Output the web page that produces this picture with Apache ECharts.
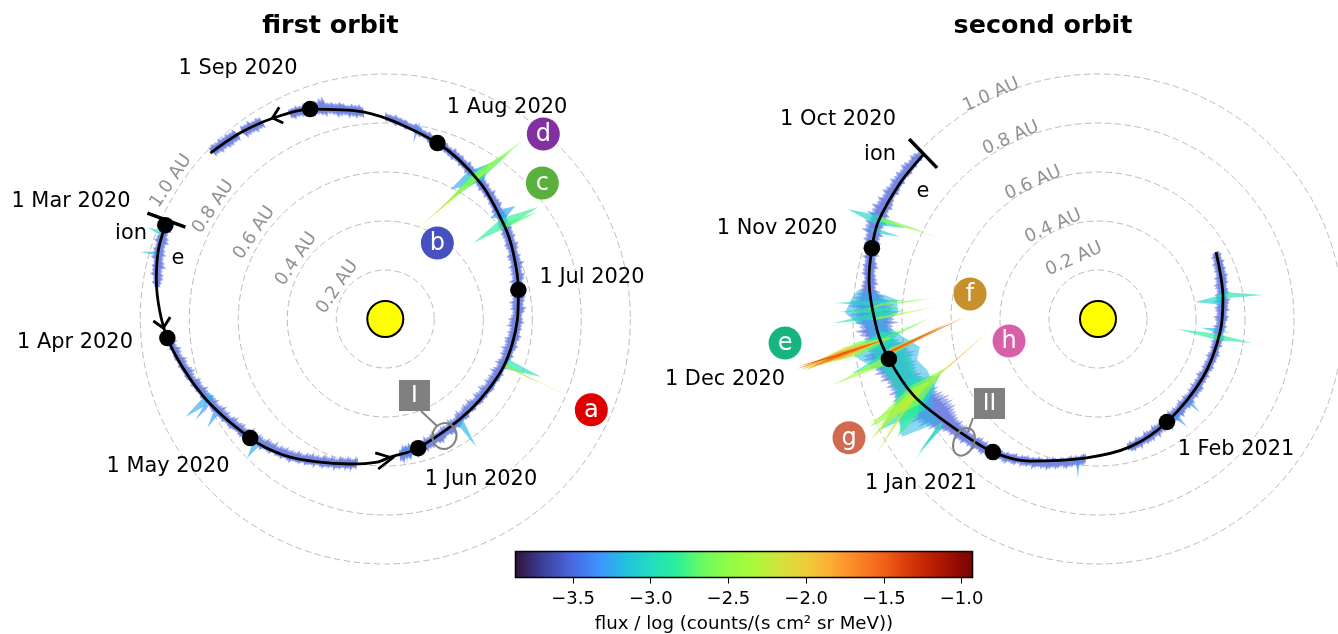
<!DOCTYPE html>
<html><head><meta charset="utf-8">
<script src="https://cdn.jsdelivr.net/npm/echarts@6/dist/echarts.min.js"></script>
<style>html,body{margin:0;padding:0;background:#fff}#c{width:1338px;height:634px}</style>
</head><body><div id="c"></div>
<script>
// ---- orbit tracks: [distance AU, heliocentric angle deg]
const orbit1 = [[.976,156.9],[.968,163.1],[.948,170.3],[.893,185],[.809,202.6],[.735,221.4],[.694,233.1],[.646,244.6],[.609,256.4],[.585,266.8],[.564,272.1],[.544,284.3],[.508,313],[.520,337.9],[.539,359.6],[.556,372.3],[.588,387.3],[.617,398],[.677,415],[.749,433.5],[.850,456.1],[.910,469.7],[.939,479.1],[.963,487.9],[.984,496.5]];
const orbit2 = [[.979,136.9],[.980,145.5],[.981,156.2],[.967,162.6],[.948,170.3],[.903,182.8],[.869,190.8],[.816,202.3],[.748,214.6],[.692,231.7],[.643,244.4],[.570,264.7],[.538,284],[.506,303.8],[.490,331],[.501,353.5],[.518,370],[.554,389.6]];
// ---- monthly markers
const dates1 = [[.976,156.9],[.893,185],[.735,221.4],[.544,284.3],[.556,12.3],[.749,73.5],[.910,109.7]];
const dates2 = [[.967,162.6],[.869,190.8],[.692,231.7],[.506,303.8]];
// ---- ion/e boundary bars and direction chevrons
const bar1 = [[1.063,156],[.898,155.3]];
const bar2 = [[1.065,136.4],[.901,136.8]];
const arrows1 = [
  [[.947,180.5],[.907,182.3],[.878,179.5]],
  [[.548,265.7],[.568,272.9],[.613,267.3]],
  [[.967,116.6],[.941,119.3],[.902,117.5]]
];
// ---- background flux fringe around the track: thickness in milli-AU, outward / inward per time bin
const band1aOut=[18,26,15,22,28,17,24,20,30,16,23,19,27,14,21,12];
const band1aIn=[28,35,24,32,38,26,30,36,27,33,40,25,31,29,22,16];
const band1bOut=[8,12,9,14,7,11,13,8,15,10,9,14,12,7,16,10,13,9,17,11,14,8,12,18,10,15,13,20,11,16,22,14,12,19,24,13,17,15,21,12,18,26,14,16,22,11,19,15,24,13,20,28,16,18,23,14,26,19,17,30,15,22,27,18,24,16,32,20,25,17,29,21,34,19,28];
const band1bIn=[30,36,26,40,33,28,42,35,30,38,44,32,27,41,36,31,46,34,29,39,37,43,30,35,48,33,40,28,37,45,31,36,42,29,34,50,38,32,41,35,30,44,37,33,47,28,39,34,42,31,36,29,40,33,27,38,32,43,30,35,26,41,34,28,37,31,24,39,33,27,36,30,22,34,28];
const band1cOut=[30,42,26,36,22,40,28,18,34,24,30,16,26,32,20,14,24,28,12,22,18,10,16,20,9,14,18,8,12,16,10,14,9,13,17,11,8,15,12,18,10,14,20,13,17,24,15,21,27,18,25,30,20,26,22,32,24,19,28,34,21,26,30,23,36,25,20,29,33,22,27,38,24,30,21,28,35,23,32,26,29,37,24,31,27,22,33,28,25,36,23,30,26,34,21,28,24,32,20,27,23,30,19,26,22,34,20,25,18,24,28,17,23,21,26,19,24];
const band1cIn=[22,34,28,40,25,36,30,24,38,28,33,42,26,30,38,34,28,44,36,30,40,46,32,38,42,34,48,36,30,44,38,34,50,40,32,46,36,42,34,48,38,30,44,36,28,40,34,46,32,38,42,30,36,28,44,34,40,30,26,38,32,42,28,36,24,34,30,40,26,32,28,36,24,30,34,22,28,32,24,26,30,22,28,24,20,26,30,22,24,18,26,20,28,22,18,24,20,26,18,22,16,24,20,18,22,15,20,24,16,21,18,14,20,16,22,15,18];
const band1dOut=[22,30,24,28,20,26,32,24,30,26,52,44,34,28,24,30,22,26,20,18];
const band1dIn=[30,24,34,28,38,26,32,40,28,24,36,30,26,34,22,30,28,24,32,26];
const band1eOut=[26,30,22,34,24,28,6,32,25,30,24,30,22,28,24];
const band1eIn=[30,24,34,26,28,36,6,30,26,32,32,26,34,24,30];
const band2aOut=[24,34,40,30,38,44,32,42,36,46,34,40,48,36,50,42,58,46,62,40,54,48,60,38,44,36,30,26,36,24,32,28,34,22,30,36,44,56,70,88,96,80,102,90,84,70,92,78,66,74,86,70,96,100,84,92,76,88,70,82,60,74,66,84,72,90,78,96,86,104,92,80,98,76,88,64,72,56,48,40,30,36,26,34,28,38,24,32,26,36,22,30,34,24,28,32,26,34,22,30,36,24,28,32,20,34,26,30,22,36,28,24,32,26,38,30,24,34,28,22,30,36,26,32,24,40,28,34,26];
const band2aIn=[8,14,10,16,12,18,14,10,20,13,17,24,14,20,26,32,22,36,28,40,30,24,38,26,34,30,28,36,24,32,38,26,30,34,40,28,44,60,76,96,88,104,92,84,98,72,66,88,60,74,96,110,100,118,108,90,100,92,86,78,90,82,94,100,88,96,108,92,104,98,110,96,104,88,92,74,66,58,50,44,52,38,46,36,42,30,38,26,34,40,28,36,24,30,26,32,20,26,16,24,18,22,28,15,24,20,26,17,22,18,25,20,16,24,19,28,21,17,24,20,16,22,26,18,23,15,20,24,18];
const band2bOut=[14,22,28,20,32,18,26,24,30,20,36,22,28,18,44,30,24,32,20,34,24,18,28,22,30,16,26,20,24,28,16,22,18,26,14,20,24,16,22,18,26,20,14,24,18,28,22,16,20,26,18,24,28,18,30,22,26,34,20,28,24,18,26,22,30,20,24,18,26,16,22,14];
const band2bIn=[20,26,18,30,24,20,34,26,22,36,28,24,32,38,26,30,40,28,34,26,32,40,28,36,30,24,34,28,38,26,30,24,36,28,22,32,26,30,24,34,28,22,30,26,32,24,28,34,30,36,26,32,40,28,34,38,30,42,32,36,28,34,40,30,36,26,32,28,34,24,30,20];
// [first angle, angle step, outward, inward]
const bands1 = [[157,1,band1aOut,band1aIn],[185,1,band1bOut,band1bIn],[276,1.5,band1cOut,band1cIn],[456,1,band1dOut,band1dIn],[482,1,band1eOut,band1eIn]];
const bands2 = [[137,1,band2aOut,band2aIn],[283,1.5,band2bOut,band2bIn]];
// ---- flux events: [inner r, inner angle, waist r, waist angle, outer r, outer angle, half width deg, log flux]
const events1 = [
 [.52,339.6,.527,339.6,.679,339.6,2.3,-2.95],[.52,339.6,.53,339,.677,337.3,.6,-2.6],[.515,339,.525,338.6,.81,337.2,.2,-2],
 [.515,306,.525,306,.641,305.4,1.5,-3.2],[.52,279,.53,279,.595,278.7,.8,-3.3],[.51,276.9,.565,280,.58,280,.6,-3.35],
 [.595,43.9,.64,42,.703,41,2,-3.25],[.475,40.8,.63,38.9,.774,36.2,2,-2.85],[.6,38,.64,37.5,.759,35.1,.9,-2.7],
 [.59,63.3,.692,57.5,.76,56.4,3.2,-3.25],[.553,61.4,.692,57.5,.851,53.2,2,-2.85],[.467,65.2,.692,57.5,.917,52.4,1.2,-2.5],[.634,58.2,.72,56,.851,53.2,.5,-2.3],[.395,70.1,.553,61.4,.711,57,.35,-2.1],
 [.77,204,.782,204,.909,206.1,1.6,-3.25],[.77,208,.78,208.4,.852,211.5,1.2,-3.3],[.73,224,.739,224.1,.8,225.2,1.1,-3.25],[.8,206,.818,206.1,.878,208,.7,-3.3],
 [.975,159.1,.983,159.1,1.042,158.9,.5,-3.05],[.96,163.9,.969,163.9,1.037,164.7,.5,-3.2],[.727,81,.78,80.5,.817,80,.5,-3.35]
];
const events2 = [
 [.871,154.8,.985,155.8,1.115,156.3,1.2,-3.05],[.79,153.3,.979,155.4,.985,155.5,.6,-2.6],[.725,152.9,.915,154.9,.979,155.4,.2,-2.3],[.871,157.4,.971,158.3,1.013,158.5,.6,-3.05],
 [.792,174.4,.933,176,1.075,176.5,.6,-3],[.789,177.3,.91,179.2,1.082,180.9,.8,-2.95],[.809,176.8,.911,177.7,1.053,178.4,.8,-2.85],[.671,172.7,.892,176.3,.952,177.8,.35,-2.5],[.667,175.8,.89,179.7,.931,180.3,.35,-2.35],[.686,179.7,.882,185.6,.93,186.5,.6,-2.6],[.801,182.3,.882,185.6,.91,186,.3,-2.3],
 [.81,184,.882,185.6,1.041,187.4,2.2,-2.95],[.84,185,.98,187,1.17,189.2,1.7,-2.6],[.85,185,1.04,187.6,1.234,189.7,1.3,-2.2],[.87,185.4,1.06,187.9,1.245,189.4,.8,-1.85],[.86,185.3,1.06,187.9,1.214,189.9,.4,-1.6],[.87,185.4,1.08,188,1.24,189,.25,-1.45],
 [.667,183.9,.86,189,.87,189.2,1.1,-2.6],[.625,182.2,.86,189,.87,189.2,.7,-2.2],[.543,179.1,.86,189,.87,189.2,.5,-1.65],[.6,181,.86,189,.87,189.2,.3,-1.5],
 [.89,191,.9,191,1.03,192.5,1.5,-2.9],[.89,191.3,.899,191.3,1.115,194,1,-2.35],
 [.684,199.5,.809,202.6,.998,207,5,-3],[.8,204,.83,205,.948,210.5,3,-2.8],[.656,197.8,.809,202.6,1.03,205.3,3,-2.5],[.729,200,.82,202.2,1.053,208,1.6,-2.3],[.78,202,.825,203,1.055,211.2,.9,-2.2],[.8,202,.83,203,1.037,204.6,.6,-2.25],[.8,203,.83,203.5,1.04,206.6,.5,-2.25],
 [.647,197.6,.75,201,.82,204,.5,-2.4],[.443,185.8,.633,197.3,.835,203.3,.2,-1.95],
 [.76,213.9,.777,213.9,.943,217.6,.6,-2.8],[.77,214.5,.79,214.5,.91,216.7,.8,-3.1],
 [.402,9.9,.512,8.7,.525,9.4,2.3,-3.05],[.487,11.1,.527,10.7,.681,8.3,1.4,-2.95],[.325,352.8,.491,351.4,.636,351.1,1.5,-2.85],[.426,355,.48,354.6,.542,354,1,-3.15],
 [.48,317.5,.491,317.7,.563,317.6,1.3,-3.3],[.49,308.7,.502,308.7,.571,309.5,1.2,-3.3],[.57,262,.581,261.9,.654,262.8,.8,-3.3]
];
// ---- enhanced-flux clouds of the second orbit: outlines in [r, angle]
const cloudBlue = [[.875,173.6],[.824,174.6],[.817,178.3],[.87,181.1],[.822,184],[.736,188.9],[.757,192.8],[.728,196.6],[.721,202.6],[.779,209.5],[.77,213.1],[.934,211],[.892,201.8],[.857,197.7],[.897,194.2],[.986,189.8],[1.003,188.4],[.933,184.5],[.943,182],[.984,181],[1.033,178.6],[1.008,175.1],[.987,173.1]];
const cloudTeal = [[.891,182.9],[.815,187.5],[.781,190.8],[.781,197],[.771,203.7],[.798,207.7],[.917,208.2],[.873,202.2],[.883,197.8],[.909,191.9],[.945,186.4]];
// ---- annotations
const sun = [[0,0]];
const ringLabels = ['0.2 AU','0.4 AU','0.6 AU','0.8 AU','1.0 AU'];
const ringPos1 = [[.235,146.3],[.438,146],[.64,146.7],[.838,146.9],[1.04,147.2]];
const ringPos2 = [[.264,111.8],[.42,115.8],[.615,115.5],[.82,115.7],[1.013,115.5]];
const badges1 = [['a',.919,336.2,'#e00000'],['b',.376,55.6,'#4650c0'],['c',.848,40.9,'#5ab03c'],['d',.993,49.5,'#8030a0']];
const badges2 = [['e',1.281,184.4,'#18b480'],['f',.532,168.9,'#c8902c'],['g',1.126,205.5,'#d06a50'],['h',.374,193.9,'#d860a8']];
const rings1 = [[.535,296.8,12,13,-20]];
const rings2 = [[.742,222.5,10,14.5,-25]];
const dateLabels = [['1 Sep 2020',238,66],['1 Aug 2020',507,105],['1 Jul 2020',592,275],['1 Jun 2020',481,477],['1 May 2020',168,464],['1 Apr 2020',75,340],['1 Mar 2020',71,199],['ion',131,231],['e',178,256],['1 Oct 2020',838,117],['ion',880,152],['e',923,189],['1 Nov 2020',777,226],['1 Dec 2020',725,377],['1 Jan 2021',921,481],['1 Feb 2021',1236,447]];
const romanBoxes = [['I',399,380,421,411,437,426],['II',974,388,973,418,968,432]];
// ---- colour scale
const fluxMin=-3.87, fluxMax=-0.93;
const fluxTicks=[-3.5,-3,-2.5,-2,-1.5,-1];
const fluxStops=[[-3.87,'#30123b'],[-3.69,'#3c3f9a'],[-3.5,'#4a68e0'],[-3.32,'#3c96ff'],[-3.15,'#22c4dd'],[-3,'#22dcc0'],[-2.83,'#2af09a'],[-2.66,'#6dfa60'],[-2.5,'#8ffc45'],[-2.34,'#aafa3a'],[-2.15,'#d5e03a'],[-2,'#efcc3a'],[-1.85,'#fbaf35'],[-1.7,'#fb8a28'],[-1.5,'#f26019'],[-1.35,'#d93a0a'],[-1.18,'#b81c02'],[-1,'#8a0802'],[-0.93,'#7a0403']];

const FONT='"DejaVu Sans"';
function fluxColor(v,a){
  let i=0; while(i<fluxStops.length-2 && v>fluxStops[i+1][0]) i++;
  const t=(v-fluxStops[i][0])/(fluxStops[i+1][0]-fluxStops[i][0]);
  const c=echarts.color.parse(echarts.color.lerp(Math.max(0,Math.min(1,t)),[fluxStops[i][1],fluxStops[i+1][1]]));
  return 'rgba('+c[0]+','+c[1]+','+c[2]+','+a+')';
}
function orbitR(o,th){
  let i=0; while(i<o.length-2 && th>o[i+1][1]) i++;
  const t=(th-o[i][1])/(o[i+1][1]-o[i][1]);
  return o[i][0]+t*(o[i+1][0]-o[i][0]);
}
function bandSeries(p,orbit,bands,scale,fill,z){
  return {type:'custom',coordinateSystem:'polar',polarIndex:p,silent:true,z,clip:false,
    data:bands.map((b,i)=>[0.5,b[0],i]),
    renderItem(params,api){
      const b=bands[api.value(2)], pts=[], back=[];
      for(let i=0;i<b[2].length;i++){
        const th=b[0]+i*b[1], rc=orbitR(orbit,th);
        pts.push(api.coord([rc+b[2][i]/1000*scale,th]));
        back.push(api.coord([rc-b[3][i]/1000*scale,th]));
        if(i<b[2].length-1){
          // notch between two bins keeps the fringe whisker-like
          const tm=th+b[1]/2, rm=orbitR(orbit,tm);
          pts.push(api.coord([rm+Math.min(b[2][i],b[2][i+1])/1000*scale*.8,tm]));
          back.push(api.coord([rm-Math.min(b[3][i],b[3][i+1])/1000*scale*.8,tm]));
        }
      }
      return {type:'polygon',shape:{points:pts.concat(back.reverse())},style:{fill}};
    }};
}
function eventSeries(p,ev,z){
  return {type:'custom',coordinateSystem:'polar',polarIndex:p,silent:true,z,clip:false,
    data:ev,
    renderItem(params,api){
      const e=ev[params.dataIndex];
      return {type:'polygon',shape:{points:[
        api.coord([e[0],e[1]]),api.coord([e[2],e[3]+e[6]]),api.coord([e[4],e[5]]),api.coord([e[2],e[3]-e[6]])
      ]},style:{fill:fluxColor(e[7],e[7]>-2.1?.9:.66)}};
    }};
}
function cloudSeries(p,pts,flux,a,z){
  return {type:'custom',coordinateSystem:'polar',polarIndex:p,silent:true,z,clip:false,data:[pts[0]],
    renderItem(params,api){return {type:'polygon',shape:{points:pts.map(q=>api.coord(q))},style:{fill:fluxColor(flux,a)}};}};
}
function line(p,data,w,z,smooth){
  return {type:'line',coordinateSystem:'polar',polarIndex:p,data,showSymbol:false,symbol:'none',clip:false,silent:true,smooth:smooth||false,z,
    lineStyle:{color:'#000',width:w,cap:'butt',join:'miter'}};
}
function barSeries(p,pts){
  return {type:'custom',coordinateSystem:'polar',polarIndex:p,silent:true,z:5,clip:false,data:[pts[0]],
    renderItem(params,api){
      const a=api.coord(pts[0]),b=api.coord(pts[1]);
      return {type:'line',shape:{x1:a[0],y1:a[1],x2:b[0],y2:b[1]},style:{stroke:'#000',lineWidth:3.5}};
    }};
}
function marks(p,data,size,z){
  return {type:'scatter',coordinateSystem:'polar',polarIndex:p,data,symbolSize:size,clip:false,silent:true,z,itemStyle:{color:'#000',opacity:1}};
}
function sunSeries(p){
  return {type:'scatter',coordinateSystem:'polar',polarIndex:p,data:sun,symbolSize:36,clip:false,silent:true,z:6,itemStyle:{color:'#ffff00',borderColor:'#000',borderWidth:2,opacity:1}};
}
function ringLabelSeries(p,pos,rot){
  return {type:'scatter',coordinateSystem:'polar',polarIndex:p,symbolSize:0,clip:false,silent:true,z:6,
    data:pos.map((q,i)=>({value:q,name:ringLabels[i]})),
    label:{show:true,position:'inside',formatter:'{b}',rotate:rot,color:'#777',fontFamily:FONT,fontSize:18}};
}
function badgeSeries(p,b){
  return {type:'scatter',coordinateSystem:'polar',polarIndex:p,symbolSize:33,clip:false,silent:true,z:9,
    data:b.map(q=>({value:[q[1],q[2]],name:q[0],itemStyle:{color:q[3],opacity:1}})),
    label:{show:true,position:'inside',formatter:'{b}',color:'#fff',fontFamily:FONT,fontSize:24,offset:[0,1]}};
}
function ringSeries(p,rings){
  return {type:'custom',coordinateSystem:'polar',polarIndex:p,silent:true,z:8,clip:false,data:rings,
    renderItem(params,api){
      const q=rings[params.dataIndex], c=api.coord([q[0],q[1]]);
      return {type:'ellipse',x:c[0],y:c[1],rotation:q[4]*Math.PI/180,shape:{cx:0,cy:0,rx:q[2],ry:q[3]},style:{fill:'none',stroke:'#808080',lineWidth:2}};
    }};
}
function axisPair(i){
  return [
   {polarIndex:i,type:'value',min:0,max:360,startAngle:0,clockwise:false,axisLine:{show:false},axisTick:{show:false},axisLabel:{show:false},splitLine:{show:false}},
   {polarIndex:i,type:'value',min:0,max:1,interval:.2,axisLine:{show:false},axisTick:{show:false},axisLabel:{show:false},splitLine:{show:true,lineStyle:{color:'#bdbdbd',width:1,type:[6.5,3.5]}},z:1}
  ];
}
const texts = dateLabels.map(d=>({type:'text',x:d[1],y:d[2]+2.5,z:20,silent:true,style:{text:d[0],fill:'#000',font:'20.9px '+FONT,textAlign:'center',textVerticalAlign:'middle'}}));
const boxes = [];
romanBoxes.forEach(b=>{
  boxes.push({type:'line',z:18,silent:true,shape:{x1:b[3],y1:b[4],x2:b[5],y2:b[6]},style:{stroke:'#808080',lineWidth:2}});
  boxes.push({type:'rect',z:19,silent:true,shape:{x:b[1],y:b[2],width:31,height:31},style:{fill:'#808080'}});
  boxes.push({type:'text',z:20,silent:true,x:b[1]+15.5,y:b[2]+16,style:{text:b[0],fill:'#fff',font:'23px '+FONT,textAlign:'center',textVerticalAlign:'middle'}});
});
const a1=axisPair(0), a2=axisPair(1);
const BAND_A='rgba(128,146,232,.7)', BAND_B='rgba(112,130,222,.9)';
const chart=echarts.init(document.getElementById('c'),null,{renderer:'canvas'});
chart.setOption({
  animation:false,backgroundColor:'#fff',
  title:[
   {text:'first orbit',left:325.5,top:9,textAlign:'center',textStyle:{fontFamily:FONT,fontSize:25.4,fontWeight:'bold',color:'#000'}},
   {text:'second orbit',left:1038,top:9,textAlign:'center',textStyle:{fontFamily:FONT,fontSize:25.4,fontWeight:'bold',color:'#000'}}
  ],
  polar:[{center:[385.3,319],radius:245},{center:[1098,319],radius:245}],
  angleAxis:[a1[0],a2[0]],
  radiusAxis:[a1[1],a2[1]],
  grid:{left:515.5,top:551.5,width:457,height:28.5,show:false},
  xAxis:{type:'value',min:fluxMin,max:fluxMax,position:'bottom',
    axisLine:{show:false},splitLine:{show:false},
    axisTick:{show:true,length:6,lineStyle:{color:'#000',width:1},customValues:fluxTicks},
    axisLabel:{show:true,margin:13,color:'#000',fontFamily:FONT,fontSize:18,hideOverlap:false,customValues:fluxTicks,formatter:v=>(+v).toFixed(1).replace('-','\u2212')},
    name:'flux / log (counts/(s cm\u00b2 sr MeV))',nameLocation:'middle',nameGap:37.5,nameTextStyle:{color:'#000',fontFamily:FONT,fontSize:18.2}},
  yAxis:{type:'value',min:0,max:1,show:false},
  graphic:texts.concat(boxes),
  series:[
    bandSeries(0,orbit1,bands1,1,BAND_A,2),
    bandSeries(0,orbit1,bands1,.72,BAND_B,2),
    eventSeries(0,events1,3),
    line(0,orbit1,2.8,4,.3),
    barSeries(0,bar1),
    ...arrows1.map(a=>line(0,a,2.8,5)),
    marks(0,dates1,16.5,5),
    sunSeries(0),ringLabelSeries(0,ringPos1,56),badgeSeries(0,badges1),ringSeries(0,rings1),

    bandSeries(1,orbit2,bands2,1,BAND_A,2),
    bandSeries(1,orbit2,bands2,.72,BAND_B,2),
    cloudSeries(1,cloudBlue,-3.2,.55,2),
    cloudSeries(1,cloudTeal,-2.95,.55,2),
    eventSeries(1,events2,3),
    line(1,orbit2,2.8,4,.3),
    barSeries(1,bar2),
    marks(1,dates2,16.5,5),
    sunSeries(1),ringLabelSeries(1,ringPos2,24),badgeSeries(1,badges2),ringSeries(1,rings2),

    {type:'custom',coordinateSystem:'cartesian2d',silent:true,z:3,data:[[fluxMin,0]],
     renderItem(params,api){
       const a=api.coord([fluxMin,1]), b=api.coord([fluxMax,0]);
       const span=fluxMax-fluxMin;
       return {type:'rect',shape:{x:a[0],y:a[1],width:b[0]-a[0],height:b[1]-a[1]},
         style:{stroke:'#000',lineWidth:1.5,fill:new echarts.graphic.LinearGradient(0,0,1,0,fluxStops.map(s=>({offset:(s[0]-fluxMin)/span,color:s[1]})))}};
     }}
  ]
});
</script></body></html>
